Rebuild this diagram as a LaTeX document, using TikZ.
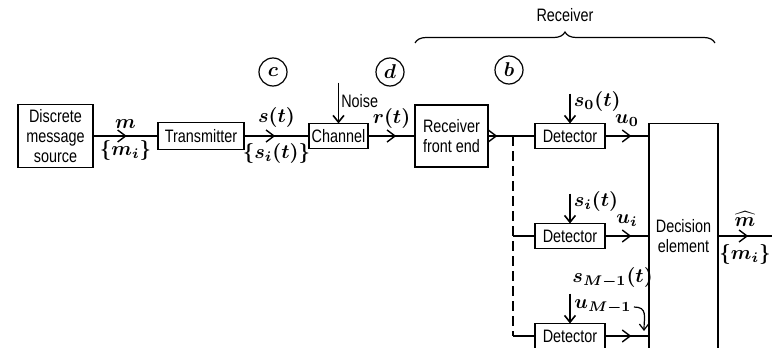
\documentclass[tikz,border=0pt]{standalone}
\usepackage{fontspec}
\setsansfont{Liberation Sans}[FakeStretch=0.8]
\usetikzlibrary{arrows.meta,positioning,decorations.markings,decorations.pathreplacing,calc}

\tikzset{
  blk/.style={draw,line width=0.8pt,align=center,inner sep=1pt,outer sep=0pt,font=\sffamily\fontsize{9}{10}\selectfont},
  thinline/.style={line width=0.6pt},
  heavy/.style={line width=1.2pt},
  midarr/.style={postaction={decorate},decoration={markings,mark=at position #1 with {\arrow{Straight Barb[length=4pt,width=6pt,line width=0.7pt]}}}},
  inarr/.style={line width=0.8pt,-{Straight Barb[length=3.4pt,width=5.4pt]}},
  tag/.style={draw,circle,line width=0.6pt,minimum size=14pt,inner sep=0pt,font=\fontsize{10}{12}\selectfont\boldmath},
  lbl/.style={font=\fontsize{10}{12}\selectfont\boldmath,inner sep=1pt}
}

\begin{document}
\begin{tikzpicture}[x=0.5pt,y=-0.5pt]
\useasboundingbox (0,0) rectangle (772,348);
% blocks along the main line
\node[blk,minimum width=37.5pt,minimum height=31.5pt] (src) at (55.5,136) {Discrete\\message\\source};
\node[blk,minimum width=43pt,minimum height=13.5pt,right=32.5pt of src] (tx) {Transmitter};
\node[blk,minimum width=29.5pt,minimum height=12.5pt,right=32.5pt of tx] (ch) {Channel};
\node[blk,minimum width=36.5pt,minimum height=31pt,right=23.5pt of ch] (fe) {Receiver\\front end};
% detector bank
\node[blk,minimum width=35pt,minimum height=12.5pt,right=23.5pt of fe] (det0) {Detector};
\node[blk,minimum width=35pt,minimum height=12.5pt,below=37.5pt of det0] (deti) {Detector};
\node[blk,minimum width=35pt,minimum height=12.5pt,below=37.5pt of deti] (detm) {Detector};
\node[blk,minimum width=34.5pt,minimum height=112.5pt,right=22pt of deti] (dec) {Decision\\element};
% test points
\node[tag] (tagc) at (273,72) {$c$};
\node[tag] (tagd) at (390,72) {$d$};
\node[tag] (tagb) at (509,70) {$b$};
% helper points
\coordinate (jn) at ($(fe.east)!0.53!(det0.west)$);
\coordinate (ji) at (jn |- deti.west);
\coordinate (jm) at (jn |- detm.west);
\coordinate[right=27pt of dec] (out);
\coordinate (nz) at ($(ch.north)+(0,-41)$);
\coordinate (s0top) at ($(det0.north)+(0,-30)$);
\coordinate (sitop) at ($(deti.north)+(0,-30)$);
\coordinate (smtop) at ($(detm.north)+(0,-30)$);
\coordinate (utip) at (644,331);
\coordinate (brl) at (415,43);
\coordinate (brr) at (715,43);
% signal path
\draw[thinline,midarr=0.52] (src) -- node[lbl,above=2.5pt]{$m$} node[lbl,below=1pt]{$\{m_i\}$} (tx);
\draw[heavy,midarr=0.48] (tx) -- node[lbl,above=2.5pt]{$s(t)$} node[lbl,below=2pt]{$\{s_i(t)\}$} (ch);
\draw[thinline,midarr=0.6] (ch) -- node[lbl,above=2.5pt]{$r(t)$} (fe);
\draw[thinline,midarr=0.2] (fe) -- (det0);
\draw[thinline,dash pattern=on 5pt off 2.5pt] (jn) -- (jm);
\draw[thinline] (ji) -- (deti);
\draw[thinline] (jm) -- (detm);
\draw[heavy,midarr=0.6] (det0) -- node[lbl,above=3pt]{$u_0$} (det0 -| dec.west);
\draw[heavy,midarr=0.6] (deti) -- node[lbl,above=3pt]{$u_i$} (dec);
\draw[heavy,midarr=0.6] (detm) -- (detm -| dec.west);
\draw[thinline,midarr=0.56] (dec) -- node[lbl,above=3.5pt]{$\widehat{m}$} node[lbl,below=3pt]{$\{m_i\}$} (out);
% inputs
\draw[inarr] (nz) -- node[right=1pt,pos=0.45,font=\sffamily\fontsize{9}{10}\selectfont,inner sep=0pt]{Noise} (ch.north);
\draw[inarr] (s0top) -- node[lbl,right=0.5pt,pos=0.25]{$s_0(t)$} (det0.north);
\draw[inarr] (sitop) -- node[lbl,right=0.5pt,pos=0.25]{$s_i(t)$} (deti.north);
\draw[inarr] (smtop) -- (detm.north);
\node[lbl,anchor=south west] (sml) at ($(smtop)+(0,-3)$) {$s_{M-1}(t)$};
\node[lbl] (uml) at (603,307) {$u_{M-1}$};
\draw[thinline,-{Straight Barb[length=3pt,width=4.6pt]}] (uml.east) .. controls ($(uml.east)+(14,0)$) and ($(utip)+(0,-14)$) .. (utip);
% receiver brace
\draw[thinline,decorate,decoration={brace,amplitude=5.5pt}] (brl) -- (brr) node[midway,yshift=14pt,font=\sffamily\fontsize{9}{10}\selectfont]{Receiver};
\end{tikzpicture}
\end{document}
